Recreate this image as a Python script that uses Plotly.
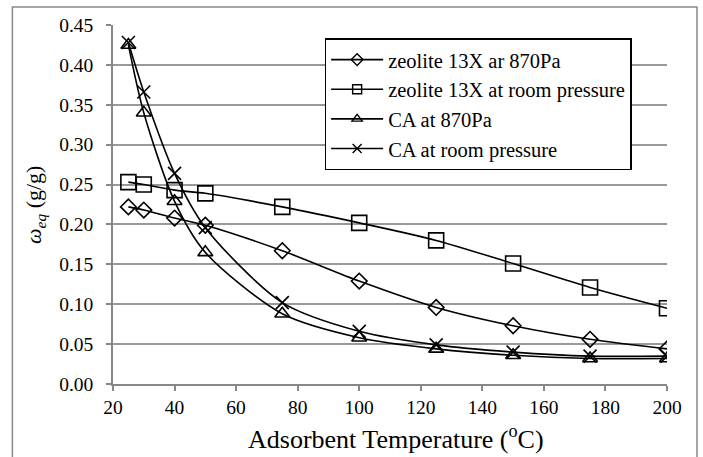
import plotly.graph_objects as go

temps = [25, 30, 40, 50, 75, 100, 125, 150, 175, 200]
zeo_870 = [0.222, 0.218, 0.208, 0.199, 0.167, 0.129, 0.096, 0.073, 0.056, 0.044]
zeo_room = [0.253, 0.250, 0.243, 0.239, 0.222, 0.202, 0.180, 0.151, 0.121, 0.095]
ca_870 = [0.425, 0.340, 0.229, 0.165, 0.088, 0.058, 0.044, 0.036, 0.032, 0.032]
ca_room = [0.428, 0.366, 0.264, 0.196, 0.102, 0.066, 0.049, 0.040, 0.035, 0.035]

names = ["zeolite 13X ar 870Pa", "zeolite 13X at room pressure", "CA at 870Pa", "CA at room pressure"]
series = [zeo_870, zeo_room, ca_870, ca_room]
symbols = ["diamond-open", "square-open", "triangle-up-open", "x-thin-open"]
sizes = [12, 15, 13, 13]

x_ticks = list(range(20, 201, 20))
y_ticks = [0.00, 0.05, 0.10, 0.15, 0.20, 0.25, 0.30, 0.35, 0.40, 0.45]

font_family = "Liberation Serif"

fig = go.Figure()
for name, ys, sym, sz in zip(names, series, symbols, sizes):
    fig.add_trace(go.Scatter(
        x=temps, y=ys, name=name, mode="lines+markers", showlegend=False,
        line=dict(color="black", width=1.6, shape="spline", smoothing=0.8),
        marker=dict(symbol=sym, size=sz, color="black", line=dict(color="black", width=1.6)),
    ))
# legend entries with smaller symbols, as in the reference legend
for name, sym in zip(names, symbols):
    fig.add_trace(go.Scatter(
        x=[None], y=[None], name=name, mode="lines+markers", showlegend=True,
        line=dict(color="black", width=1.6),
        marker=dict(symbol=sym, size=9, color="black", line=dict(color="black", width=1.4)),
    ))

fig.update_layout(
    width=703, height=457,
    margin=dict(l=113, r=36, t=25, b=73),
    paper_bgcolor="white", plot_bgcolor="white",
    font=dict(family=font_family, color="black", size=19.5),
    showlegend=True,
    legend=dict(x=0.382, y=0.963, xanchor="left", yanchor="top",
                bordercolor="black", borderwidth=1.5, bgcolor="white",
                font=dict(size=20.5, family=font_family), tracegroupgap=0,
                itemwidth=52),
    xaxis=dict(range=[20, 200], tickmode="array", tickvals=x_ticks,
               showgrid=False, showline=True, linecolor="#888", linewidth=1.5,
               ticks="outside", ticklen=5, tickcolor="#888", tickwidth=1.5,
               tickfont=dict(size=19.5, family=font_family),
               zeroline=False),
    yaxis=dict(range=[0, 0.45], tickmode="array", tickvals=y_ticks,
               tickformat=".2f", showgrid=True, gridcolor="#999", gridwidth=1.5,
               showline=True, linecolor="#888", linewidth=1.5,
               ticks="outside", ticklen=5, tickcolor="#888", tickwidth=1.5,
               tickfont=dict(size=19.5, family=font_family), ticklabelstandoff=9,
               zeroline=False),
    annotations=[
        dict(text="Adsorbent Temperature (<sup>o</sup>C)", xref="paper", yref="paper",
             x=0.510, y=-0.2006, xanchor="center", yanchor="bottom", showarrow=False,
             font=dict(size=26, family=font_family)),
        dict(text="<i>ω</i><sub><i>eq</i></sub> (g/g)", xref="paper", yref="paper",
             x=-0.1418, y=0.5, xanchor="center", yanchor="middle", showarrow=False,
             textangle=-90, font=dict(size=22, family=font_family)),
    ],
    shapes=[dict(type="rect", xref="paper", yref="paper",
                 x0=-0.1816, x1=1.0542, y0=-0.3, y1=1.0501,
                 line=dict(color="#888", width=1.5), layer="below")],
)

fig.write_html("out.html")
